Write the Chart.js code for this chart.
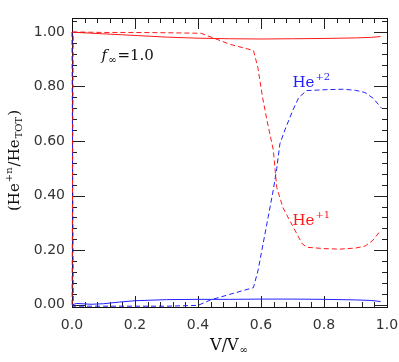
<!DOCTYPE html>
<html>
<head>
<meta charset="utf-8">
<script src="https://cdn.jsdelivr.net/npm/chart.js@4.4.1/dist/chart.umd.min.js"></script>
<style>
html, body { margin: 0; padding: 0; background: #fff; }
</style>
</head>
<body>
<canvas id="myChart" width="399" height="362"></canvas>
<script>
// tick labels
const xTicks = [0.0, 0.2, 0.4, 0.6, 0.8, 1.0];
const yTicks = [0.0, 0.2, 0.4, 0.6, 0.8, 1.0];

// He+1, solid
const vHe1Solid = [0, 0.1, 0.2, 0.3, 0.4, 0.5, 0.6, 0.7, 0.8, 0.9, 0.95, 0.98];
const he1Solid  = [0.999, 0.993, 0.987, 0.981, 0.977, 0.975, 0.974, 0.975, 0.976, 0.978, 0.980, 0.983];

// He+1, dashed
const vHe1Dash = [0, 0.004, 0.1, 0.2, 0.3, 0.41, 0.5, 0.576, 0.59, 0.605, 0.62, 0.639, 0.65, 0.67, 0.70, 0.73, 0.745, 0.8, 0.85, 0.9, 0.93, 0.955, 0.978];
const he1Dash  = [0.0, 1.0, 0.998, 0.998, 0.997, 0.995, 0.955, 0.932, 0.87, 0.76, 0.67, 0.568, 0.43, 0.355, 0.29, 0.225, 0.211, 0.206, 0.204, 0.208, 0.215, 0.236, 0.27];

// He+2, solid
const vHe2Solid = [0, 0.015, 0.06, 0.1, 0.15, 0.2, 0.3, 0.4, 0.5, 0.6, 0.7, 0.8, 0.9, 0.95, 0.98];
const he2Solid  = [0.0, 0.005, 0.002, 0.004, 0.01, 0.015, 0.019, 0.02, 0.02, 0.021, 0.021, 0.02, 0.018, 0.016, 0.012];

// He+2, dashed
const vHe2Dash = [0, 0.004, 0.1, 0.2, 0.3, 0.4, 0.44, 0.5, 0.576, 0.591, 0.607, 0.623, 0.639, 0.65, 0.66, 0.676, 0.70, 0.72, 0.745, 0.8, 0.86, 0.9, 0.93, 0.956, 0.983];
const he2Dash  = [1.0, -0.005, -0.005, -0.005, -0.005, -0.002, 0.018, 0.038, 0.063, 0.128, 0.226, 0.323, 0.421, 0.50, 0.59, 0.641, 0.71, 0.76, 0.785, 0.788, 0.79, 0.786, 0.778, 0.757, 0.72];

const RED = '#ff1a1a';
const BLUE = '#2020ff';

function pts(xs, ys) {
  return xs.map((x, i) => ({ x: x, y: ys[i] }));
}

// frame + inward ticks on all four sides
const frame = {
  id: 'frame',
  beforeDatasetsDraw(chart) {
    const { ctx, chartArea: a, scales } = chart;
    ctx.save();
    ctx.strokeStyle = '#222';
    ctx.lineWidth = 1;
    ctx.beginPath();
    for (let i = 0; i <= 25; i++) {
      const v = i * 0.04;
      const px = Math.round(scales.x.getPixelForValue(v)) + 0.5;
      const len = i % 5 === 0 ? 11 : 5;
      ctx.moveTo(px, a.bottom); ctx.lineTo(px, a.bottom - len);
      ctx.moveTo(px, a.top); ctx.lineTo(px, a.top + len);
    }
    for (let i = 0; i <= 26; i++) {
      const v = i * 0.04;
      const py = Math.round(scales.y.getPixelForValue(v)) + 0.5;
      if (py < a.top) continue;
      const len = i % 5 === 0 ? 13 : 5;
      ctx.moveTo(a.left, py); ctx.lineTo(a.left + len, py);
      ctx.moveTo(a.right, py); ctx.lineTo(a.right - len, py);
    }
    ctx.stroke();
    ctx.strokeStyle = '#111';
    ctx.strokeRect(a.left + 0.5, a.top + 0.5, a.right - a.left, a.bottom - a.top);
    ctx.restore();
  },
  afterDatasetsDraw(chart) {
    const { ctx, scales } = chart;
    const X = scales.x, Y = scales.y;
    ctx.save();
    ctx.textBaseline = 'alphabetic';
    ctx.textAlign = 'left';

    function supText(x, y, base, sup, dy, color) {
      ctx.fillStyle = color;
      ctx.font = '15px "DejaVu Serif"';
      ctx.fillText(base, x, y);
      const w = ctx.measureText(base).width;
      ctx.font = '10px "DejaVu Serif"';
      ctx.fillText(sup, x + w + 1, y + dy);
    }
    supText(X.getPixelForValue(0.70), Y.getPixelForValue(0.798), 'He', '+2', -7, BLUE);
    supText(X.getPixelForValue(0.70), Y.getPixelForValue(0.292), 'He', '+1', -7, RED);

    // f_inf = 1.0
    let x0 = X.getPixelForValue(0.094), y0 = Y.getPixelForValue(0.897);
    ctx.fillStyle = '#111';
    ctx.font = 'italic 15px "DejaVu Serif"';
    ctx.fillText('f', x0, y0);
    x0 += ctx.measureText('f').width + 1;
    ctx.font = '10px "DejaVu Serif"';
    ctx.fillText('\u221e', x0, y0 + 3);
    x0 += ctx.measureText('\u221e').width + 1;
    ctx.font = '15px "DejaVu Serif"';
    ctx.fillText('=1.0', x0, y0);

    // x title
    ctx.font = '16px "DejaVu Serif"';
    const wv = ctx.measureText('V/V').width;
    ctx.font = '10px "DejaVu Serif"';
    const wi = ctx.measureText('\u221e').width;
    let tx = 229 - (wv + wi + 1) / 2;
    ctx.font = '16px "DejaVu Serif"';
    ctx.fillText('V/V', tx, 350);
    ctx.font = '10px "DejaVu Serif"';
    ctx.fillText('\u221e', tx + wv + 1, 353);

    // y title, rotated
    const parts = [
      ['(He', 15, 0], ['+n', 10, -7], ['/He', 15, 0], ['TOT', 10, 3], [')', 15, 0]
    ];
    let total = 0;
    parts.forEach(p => { ctx.font = p[1] + 'px "DejaVu Serif"'; total += ctx.measureText(p[0]).width + 1; });
    ctx.translate(19, 160 + total / 2);
    ctx.rotate(-Math.PI / 2);
    let cx = 0;
    parts.forEach(p => {
      ctx.font = p[1] + 'px "DejaVu Serif"';
      ctx.fillText(p[0], cx, p[2]);
      cx += ctx.measureText(p[0]).width + 1;
    });
    ctx.restore();
  }
};

new Chart(document.getElementById('myChart'), {
  type: 'line',
  data: {
    datasets: [
      { data: pts(vHe1Solid, he1Solid), borderColor: RED, borderWidth: 1 },
      { data: pts(vHe1Dash, he1Dash), borderColor: RED, borderWidth: 1, borderDash: [5, 3] },
      { data: pts(vHe2Solid, he2Solid), borderColor: BLUE, borderWidth: 1 },
      { data: pts(vHe2Dash, he2Dash), borderColor: BLUE, borderWidth: 1, borderDash: [5, 3] }
    ]
  },
  options: {
    responsive: false,
    animation: false,
    events: [],
    layout: { padding: { top: 18, right: 12, left: 0, bottom: 0 } },
    elements: { point: { radius: 0 }, line: { tension: 0 } },
    datasets: { line: { clip: false } },
    plugins: { legend: { display: false }, tooltip: { enabled: false } },
    scales: {
      x: {
        type: 'linear',
        min: 0, max: 1,
        afterBuildTicks: s => { s.ticks = xTicks.map(v => ({ value: v })); },
        afterFit: s => { s.height = 55; s.paddingLeft = 0; s.paddingRight = 0; },
        grid: { display: false, drawTicks: false },
        border: { display: false },
        ticks: {
          color: '#333',
          padding: 10,
          maxRotation: 0,
          font: { family: 'DejaVu Sans', size: 14 },
          callback: v => Number(v).toFixed(1)
        }
      },
      y: {
        type: 'linear',
        min: -0.008, max: 1.051,
        afterBuildTicks: s => { s.ticks = yTicks.map(v => ({ value: v })); },
        afterFit: s => { s.width = 72; s.paddingTop = 0; s.paddingBottom = 0; },
        grid: { display: false, drawTicks: false },
        border: { display: false },
        ticks: {
          color: '#333',
          padding: 7,
          font: { family: 'DejaVu Sans', size: 14 },
          callback: v => Number(v).toFixed(2)
        }
      }
    }
  },
  plugins: [frame]
});
</script>
</body>
</html>
